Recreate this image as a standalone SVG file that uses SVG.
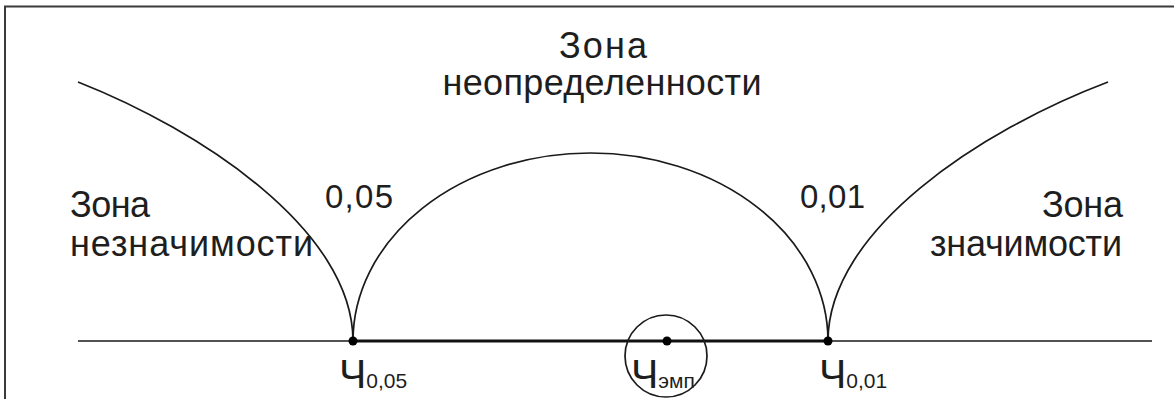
<svg xmlns="http://www.w3.org/2000/svg" width="1174" height="399" viewBox="0 0 1174 399">
<style>
.t{font-family:"Liberation Sans",Arial,sans-serif;fill:#1e1e1e}
.z{font-size:36px}
.p{font-size:33px}
.ch{font-size:41px}
.sub{font-size:21px}
.ln{fill:none;stroke:#1a1a1a;stroke-width:1.7}
.dot{fill:#000}
</style>
<rect width="1174" height="399" fill="#fff"/>
<g id="frame">
<path d="M5,399 V6.5 H1174" fill="none" stroke="#3a3a3a" stroke-width="2"/>
</g>
<g id="connectors">
<line x1="78" y1="341" x2="1152" y2="341" class="ln"/>
<line x1="353" y1="341" x2="828" y2="341" stroke="#111" stroke-width="3"/>
<path d="M78,82 C200,130 353,230 353,341" class="ln"/>
<path d="M1108,82 C981,130 828,230 828,341" class="ln"/>
<path d="M353,341 A237.5,188 0 0 1 828,341" class="ln"/>
<circle cx="666" cy="356" r="41" class="ln"/>
</g>
<g id="node-zone-uncertain">
<text class="t z" x="603" y="58" text-anchor="middle" textLength="88">Зона</text>
<text class="t z" x="602" y="95" text-anchor="middle" textLength="319">неопределенности</text>
</g>
<g id="node-zone-insignificant">
<text class="t z" x="70" y="217" textLength="80">Зона</text>
<text class="t z" x="70" y="256" textLength="243">незначимости</text>
</g>
<g id="node-zone-significant">
<text class="t z" x="1123" y="217" text-anchor="end" textLength="81">Зона</text>
<text class="t z" x="1122" y="256" text-anchor="end" textLength="192">значимости</text>
</g>
<g id="node-p005">
<text class="t p" x="325" y="208" textLength="68">0,05</text>
</g>
<g id="node-p001">
<text class="t p" x="800" y="208" textLength="65">0,01</text>
</g>
<g id="node-ch005">
<circle cx="353" cy="341" r="4.5" class="dot"/>
<text class="t" x="339" y="388"><tspan class="ch">Ч</tspan><tspan class="sub">0,05</tspan></text>
</g>
<g id="node-chemp">
<circle cx="667" cy="341" r="4.5" class="dot"/>
<text class="t" x="631" y="388"><tspan class="ch">Ч</tspan><tspan class="sub">эмп</tspan></text>
</g>
<g id="node-ch001">
<circle cx="828" cy="341" r="4.5" class="dot"/>
<text class="t" x="819" y="388"><tspan class="ch">Ч</tspan><tspan class="sub">0,01</tspan></text>
</g>
</svg>
